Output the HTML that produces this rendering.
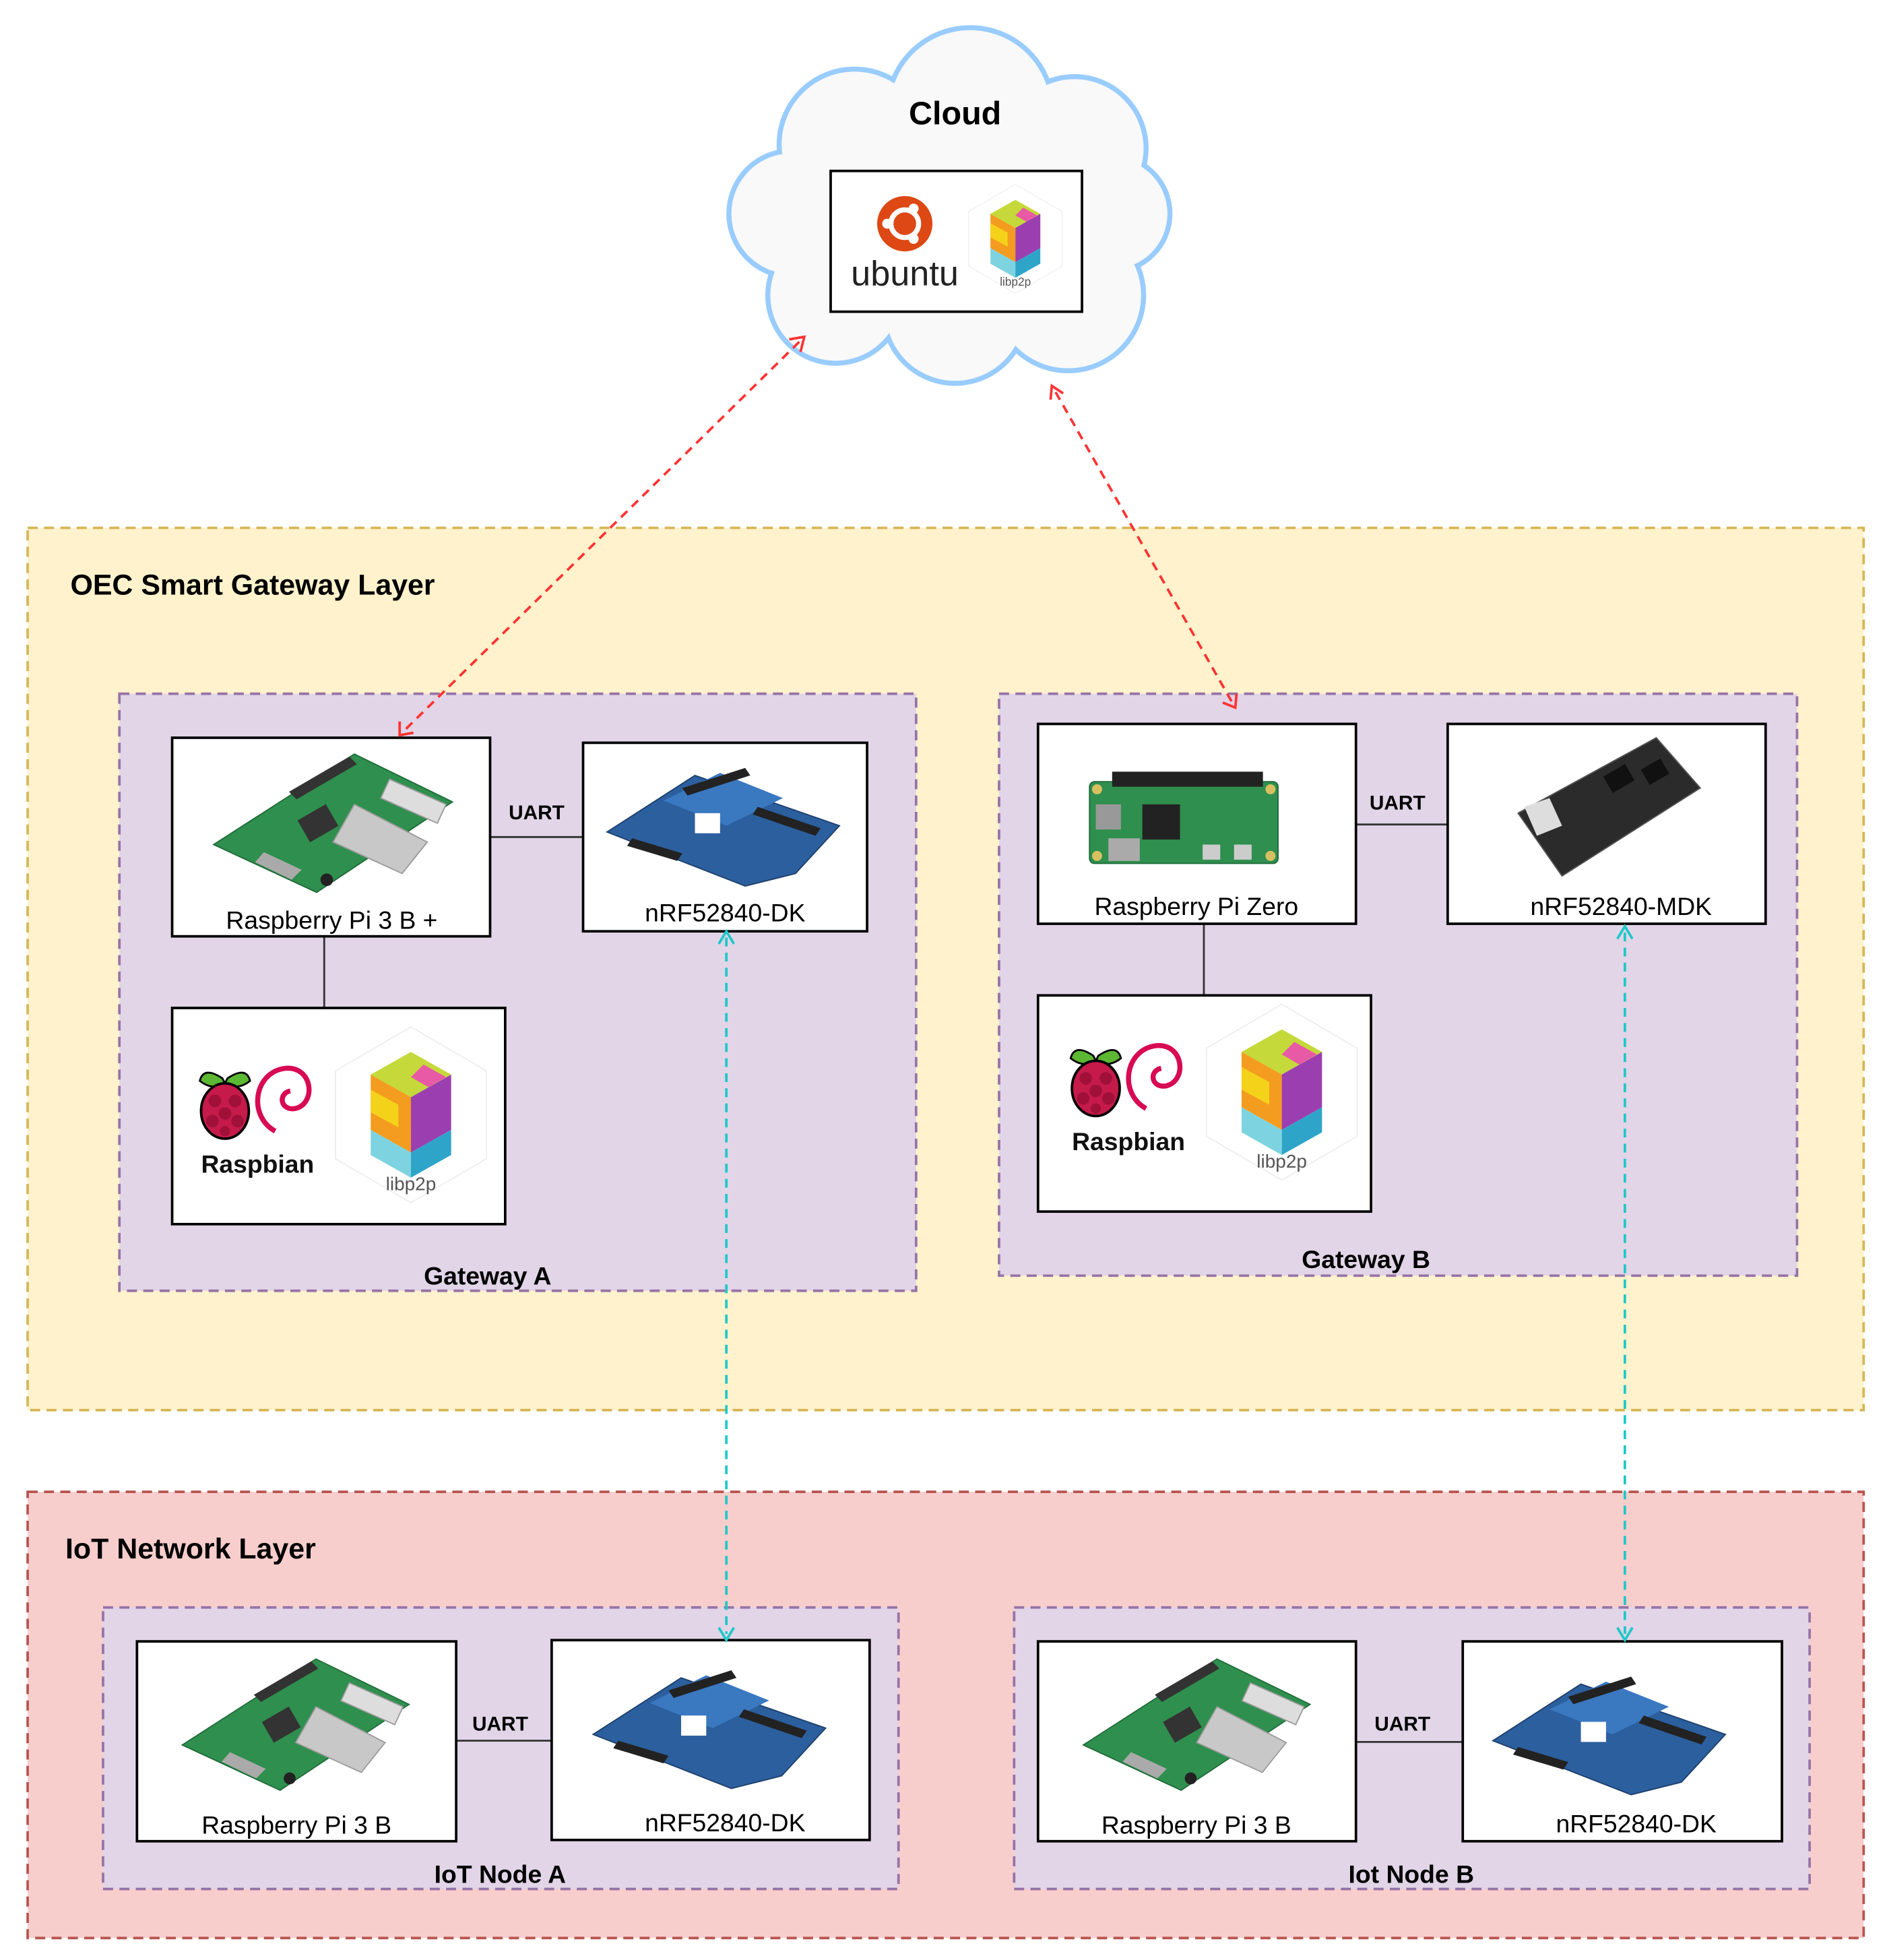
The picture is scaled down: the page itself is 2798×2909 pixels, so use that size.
<!DOCTYPE html>
<html><head><meta charset="utf-8"><style>html,body{margin:0;padding:0;background:#fff}svg{display:block}</style></head>
<body>
<svg width="2798" height="2909" viewBox="0 0 1500 1559.5" xmlns="http://www.w3.org/2000/svg" font-family="Liberation Sans, Arial, sans-serif">
<defs>
<g id="rpi">
  <polygon points="0,72 112,0 190,38 82,110" fill="#2f8f4e" stroke="#1f6b38" stroke-width="1"/>
  <polygon points="60,30 108,2 114,8 66,36" fill="#333"/>
  <rect x="70" y="45" width="26" height="20" fill="#333" transform="rotate(-30 83 55)"/>
  <polygon points="112,40 170,70 150,95 95,70" fill="#c8c8c8" stroke="#999"/>
  <polygon points="140,20 185,40 178,55 133,35" fill="#ddd" stroke="#999"/>
  <polygon points="40,78 70,92 62,100 33,86" fill="#aaa"/>
  <circle cx="90" cy="100" r="5" fill="#222"/>
</g>
<g id="nrf">
  <polygon points="0,45 70,0 185,40 150,78 110,88" fill="#2c5f9e" stroke="#1d3f6c"/>
  <polygon points="45,20 90,-2 140,18 95,40" fill="#3a78c0"/>
  <rect x="70" y="30" width="20" height="16" fill="#fff"/>
  <polygon points="60,10 110,-6 114,0 64,16" fill="#222"/>
  <polygon points="120,25 170,42 166,48 116,31" fill="#222"/>
  <polygon points="20,50 60,62 56,68 16,56" fill="#222"/>
</g>
<g id="zero">
  <rect x="0" y="0" width="150" height="65" rx="4" fill="#2f8f4e" stroke="#1f6b38"/>
  <rect x="18" y="-8" width="120" height="12" fill="#222"/>
  <rect x="42" y="18" width="30" height="28" fill="#222"/>
  <rect x="5" y="18" width="20" height="20" fill="#999"/>
  <rect x="15" y="45" width="25" height="18" fill="#aaa"/>
  <rect x="90" y="50" width="14" height="12" fill="#ccc"/>
  <rect x="115" y="50" width="14" height="12" fill="#ccc"/>
  <circle cx="6" cy="6" r="4" fill="#d8c060"/><circle cx="144" cy="6" r="4" fill="#d8c060"/>
  <circle cx="6" cy="59" r="4" fill="#d8c060"/><circle cx="144" cy="59" r="4" fill="#d8c060"/>
</g>
<g id="mdk">
  <polygon points="0,60 110,0 145,40 35,110" fill="#2b2b2b" stroke="#555"/>
  <polygon points="5,55 25,48 35,70 15,78" fill="#ddd"/>
  <rect x="70" y="25" width="20" height="15" fill="#111" transform="rotate(-30 80 32)"/>
  <rect x="100" y="20" width="18" height="14" fill="#111" transform="rotate(-30 109 27)"/>
</g>
<g id="libp2p">
  <polygon points="0,-70 60,-35 60,35 0,70 -60,35 -60,-35" fill="#fff" stroke="#eee"/>
  <polygon points="0,-50 32,-32 0,-14 -32,-32" fill="#c5d93a"/>
  <polygon points="-32,-32 0,-14 0,30 -32,12" fill="#f39c1f"/>
  <polygon points="0,-14 32,-32 32,12 0,30" fill="#9b3fb0"/>
  <polygon points="-32,12 0,30 0,50 -32,32" fill="#7dd3e0"/>
  <polygon points="0,30 32,12 32,32 0,50" fill="#2ea5c8"/>
  <polygon points="10,-40 28,-30 14,-22 0,-30" fill="#e85aa5"/>
  <polygon points="-32,-20 -10,-8 -10,10 -32,-2" fill="#f5d21a"/>
  <text x="0" y="48" font-size="15" fill="#555" text-anchor="middle" dy="12">libp2p</text>
</g>
<g id="raspbian">
  <path d="M20,10 Q5,0 2,12 Q12,20 22,14 Z" fill="#5cb833" stroke="#000" stroke-width="1.5"/>
  <path d="M24,10 Q39,0 42,12 Q32,20 22,14 Z" fill="#5cb833" stroke="#000" stroke-width="1.5"/>
  <ellipse cx="22" cy="36" rx="19" ry="22" fill="#c51a4a" stroke="#000" stroke-width="2"/>
  <circle cx="14" cy="28" r="5" fill="#a01038"/><circle cx="30" cy="28" r="5" fill="#a01038"/>
  <circle cx="22" cy="38" r="5" fill="#a01038"/><circle cx="12" cy="44" r="5" fill="#a01038"/>
  <circle cx="32" cy="44" r="5" fill="#a01038"/><circle cx="22" cy="52" r="4" fill="#a01038"/>
  <path d="M62,52 C40,40 45,5 70,2 C92,0 95,30 78,34 C66,36 64,22 74,20" fill="none" stroke="#d70a53" stroke-width="4"/>
  <text x="48" y="85" font-size="20" font-weight="bold" text-anchor="middle" fill="#111">Raspbian</text>
</g>
</defs>

<!-- Cloud -->
<g fill="#f9f9f9" stroke="#99ccff" stroke-width="8">
  <circle cx="680" cy="115" r="58"/><circle cx="772" cy="88" r="64"/><circle cx="855" cy="118" r="55"/>
  <circle cx="885" cy="170" r="44"/><circle cx="850" cy="235" r="58"/><circle cx="760" cy="248" r="55"/>
  <circle cx="665" cy="235" r="52"/><circle cx="630" cy="170" r="48"/>
</g>
<g fill="#f9f9f9">
  <circle cx="680" cy="115" r="58"/><circle cx="772" cy="88" r="64"/><circle cx="855" cy="118" r="55"/>
  <circle cx="885" cy="170" r="44"/><circle cx="850" cy="235" r="58"/><circle cx="760" cy="248" r="55"/>
  <circle cx="665" cy="235" r="52"/><circle cx="630" cy="170" r="48"/>
  <rect x="640" y="100" width="240" height="150"/>
</g>
<text x="760" y="99" font-size="26" font-weight="bold" text-anchor="middle">Cloud</text>
<rect x="661" y="136" width="200" height="112" fill="#fff" stroke="#000" stroke-width="2"/>
<circle cx="720" cy="178" r="22" fill="#dd4814"/>
<circle cx="720" cy="178" r="11" fill="none" stroke="#fff" stroke-width="4"/>
<circle cx="706" cy="178" r="4" fill="#fff"/><circle cx="727" cy="166" r="4" fill="#fff"/><circle cx="727" cy="190" r="4" fill="#fff"/>
<text x="720" y="227" font-size="28" fill="#222" text-anchor="middle">ubuntu</text>
<g transform="translate(808,190) scale(0.62)"><use href="#libp2p"/></g>

<!-- OEC layer -->
<rect x="22" y="420" width="1461" height="702" fill="#fff2cc" stroke="#d6b656" stroke-width="2" stroke-dasharray="8 5"/>
<text x="56" y="473" font-size="23" font-weight="bold">OEC Smart Gateway Layer</text>

<!-- Gateway A -->
<rect x="95" y="552" width="634" height="475" fill="#e1d5e7" stroke="#9673a6" stroke-width="2" stroke-dasharray="8 5"/>
<line x1="390" y1="666" x2="464" y2="666" stroke="#333" stroke-width="1.5"/>
<line x1="258" y1="745" x2="258" y2="802" stroke="#333" stroke-width="1.5"/>
<text x="427" y="652" font-size="16" font-weight="bold" text-anchor="middle">UART</text>
<rect x="137" y="587" width="253" height="158" fill="#fff" stroke="#000" stroke-width="2"/>
<g transform="translate(170,600)"><use href="#rpi"/></g>
<text x="264" y="739" font-size="20" text-anchor="middle">Raspberry Pi 3 B +</text>
<rect x="464" y="591" width="226" height="150" fill="#fff" stroke="#000" stroke-width="2"/>
<g transform="translate(483,617)"><use href="#nrf"/></g>
<text x="577" y="733" font-size="20" text-anchor="middle">nRF52840-DK</text>
<rect x="137" y="802" width="265" height="172" fill="#fff" stroke="#000" stroke-width="2"/>
<g transform="translate(157,848)"><use href="#raspbian"/></g>
<g transform="translate(327,887)"><use href="#libp2p"/></g>
<text x="388" y="1022" font-size="20" font-weight="bold" text-anchor="middle">Gateway A</text>

<!-- Gateway B -->
<rect x="795" y="552" width="635" height="463" fill="#e1d5e7" stroke="#9673a6" stroke-width="2" stroke-dasharray="8 5"/>
<line x1="1079" y1="656" x2="1152" y2="656" stroke="#333" stroke-width="1.5"/>
<line x1="958" y1="735" x2="958" y2="792" stroke="#333" stroke-width="1.5"/>
<text x="1112" y="644" font-size="16" font-weight="bold" text-anchor="middle">UART</text>
<rect x="826" y="576" width="253" height="159" fill="#fff" stroke="#000" stroke-width="2"/>
<g transform="translate(867,622)"><use href="#zero"/></g>
<text x="952" y="728" font-size="20" text-anchor="middle">Raspberry Pi Zero</text>
<rect x="1152" y="576" width="253" height="159" fill="#fff" stroke="#000" stroke-width="2"/>
<g transform="translate(1208,587)"><use href="#mdk"/></g>
<text x="1290" y="728" font-size="20" text-anchor="middle">nRF52840-MDK</text>
<rect x="826" y="792" width="265" height="172" fill="#fff" stroke="#000" stroke-width="2"/>
<g transform="translate(850,830)"><use href="#raspbian"/></g>
<g transform="translate(1020,869)"><use href="#libp2p"/></g>
<text x="1087" y="1009" font-size="20" font-weight="bold" text-anchor="middle">Gateway B</text>

<!-- IoT layer -->
<rect x="22" y="1187" width="1461" height="355" fill="#f8cecc" stroke="#b85450" stroke-width="2" stroke-dasharray="8 5"/>
<text x="52" y="1240" font-size="23" font-weight="bold">IoT Network Layer</text>

<rect x="82" y="1279" width="633" height="224" fill="#e1d5e7" stroke="#9673a6" stroke-width="2" stroke-dasharray="8 5"/>
<line x1="363" y1="1385" x2="439" y2="1385" stroke="#333" stroke-width="1.5"/>
<text x="398" y="1377" font-size="16" font-weight="bold" text-anchor="middle">UART</text>
<rect x="109" y="1306" width="254" height="159" fill="#fff" stroke="#000" stroke-width="2"/>
<g transform="translate(145,1320) scale(0.95)"><use href="#rpi"/></g>
<text x="236" y="1459" font-size="20" text-anchor="middle">Raspberry Pi 3 B</text>
<rect x="439" y="1305" width="253" height="159" fill="#fff" stroke="#000" stroke-width="2"/>
<g transform="translate(472,1335)"><use href="#nrf"/></g>
<text x="577" y="1457" font-size="20" text-anchor="middle">nRF52840-DK</text>
<text x="398" y="1498" font-size="20" font-weight="bold" text-anchor="middle">IoT Node A</text>

<rect x="807" y="1279" width="633" height="224" fill="#e1d5e7" stroke="#9673a6" stroke-width="2" stroke-dasharray="8 5"/>
<line x1="1079" y1="1386" x2="1164" y2="1386" stroke="#333" stroke-width="1.5"/>
<text x="1116" y="1377" font-size="16" font-weight="bold" text-anchor="middle">UART</text>
<rect x="826" y="1306" width="253" height="159" fill="#fff" stroke="#000" stroke-width="2"/>
<g transform="translate(862,1320) scale(0.95)"><use href="#rpi"/></g>
<text x="952" y="1459" font-size="20" text-anchor="middle">Raspberry Pi 3 B</text>
<rect x="1164" y="1306" width="254" height="159" fill="#fff" stroke="#000" stroke-width="2"/>
<g transform="translate(1188,1340)"><use href="#nrf"/></g>
<text x="1302" y="1458" font-size="20" text-anchor="middle">nRF52840-DK</text>
<text x="1123" y="1498" font-size="20" font-weight="bold" text-anchor="middle">Iot Node B</text>

<!-- Connectors -->
<g fill="none" stroke-width="2" stroke-dasharray="7 5">
  <line x1="636" y1="272" x2="322" y2="581" stroke="#ff3333"/>
  <line x1="840" y1="312" x2="980" y2="558" stroke="#ff3333"/>
  <line x1="578" y1="746" x2="578" y2="1300" stroke="#1ec8c8"/>
  <line x1="1293" y1="742" x2="1293" y2="1300" stroke="#1ec8c8"/>
</g>
<g fill="none" stroke-width="2">
  <polyline points="628,270 640,268 637,280" stroke="#ff3333"/>
  <polyline points="318,574 318,585 329,583" stroke="#ff3333"/>
  <polyline points="836,318 837,307 846,313" stroke="#ff3333"/>
  <polyline points="973,559 983,563 984,552" stroke="#ff3333"/>
  <polyline points="572,751 578,741 584,751" stroke="#1ec8c8"/>
  <polyline points="572,1295 578,1305 584,1295" stroke="#1ec8c8"/>
  <polyline points="1287,747 1293,737 1299,747" stroke="#1ec8c8"/>
  <polyline points="1287,1295 1293,1305 1299,1295" stroke="#1ec8c8"/>
</g>
</svg>
</body></html>
